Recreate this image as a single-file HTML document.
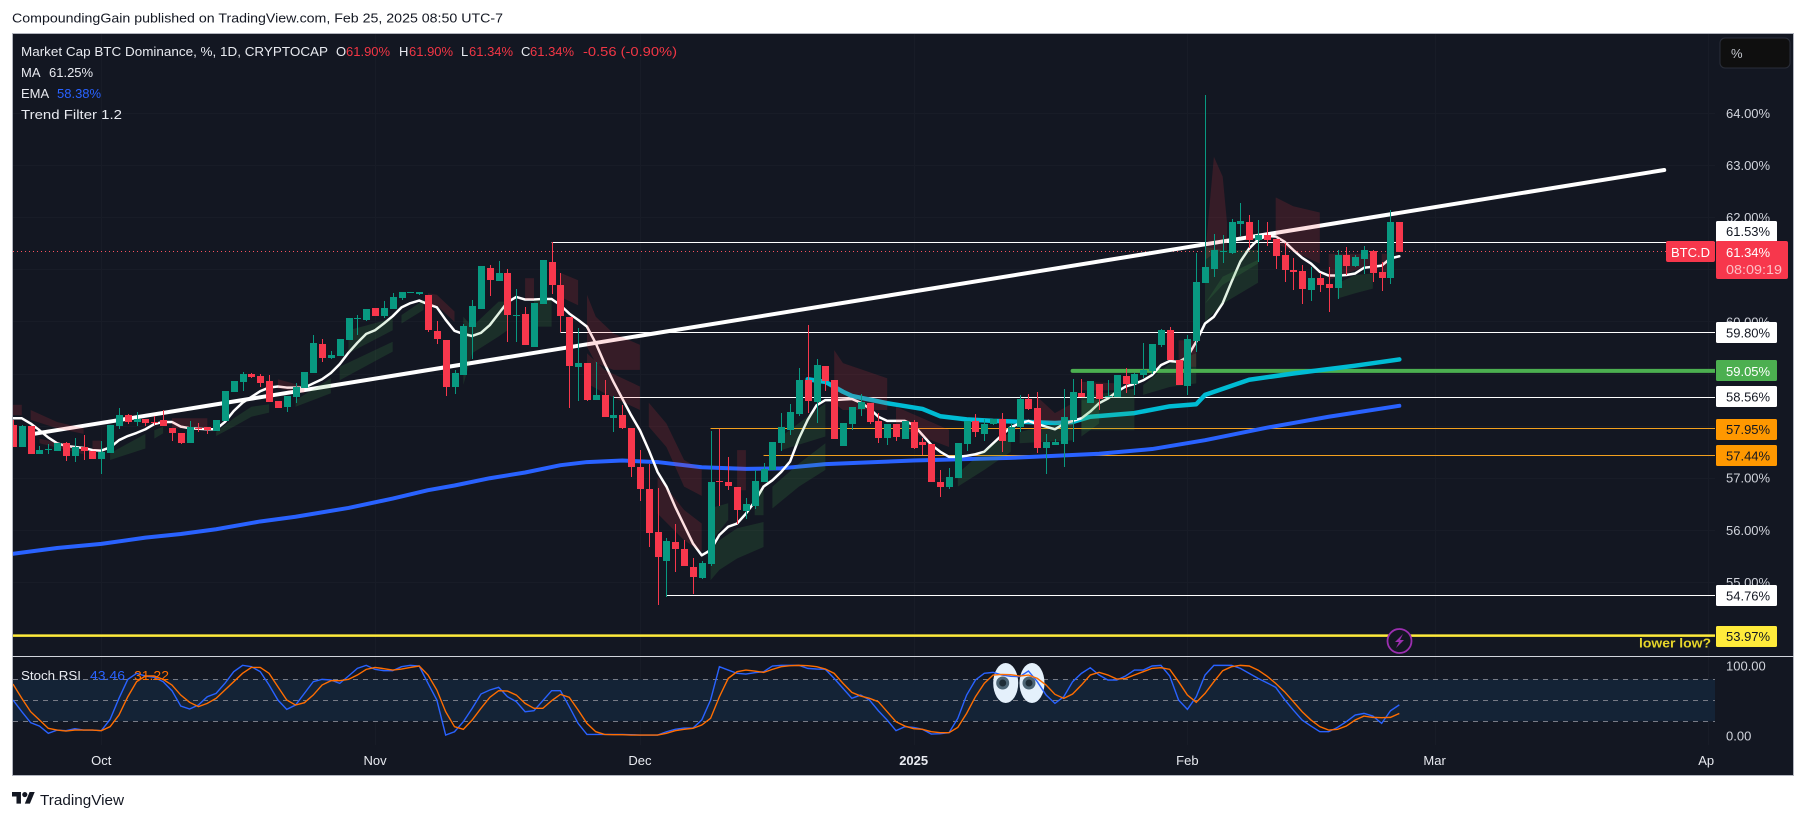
<!DOCTYPE html>
<html lang="en">
<head>
<meta charset="utf-8">
<title>Market Cap BTC Dominance chart</title>
<style>
html,body{margin:0;padding:0;background:#fff;width:1806px;height:819px;overflow:hidden}
svg{display:block}
text{font-family:"Liberation Sans",sans-serif;font-size:13px}
</style>
</head>
<body>
<svg id="chart" xmlns="http://www.w3.org/2000/svg" width="1806" height="819" viewBox="0 0 1806 819">
  <defs>
    <clipPath id="mainClip"><rect x="13" y="34" width="1702" height="622"/></clipPath>
    <clipPath id="rsiClip"><rect x="13" y="657" width="1702" height="90"/></clipPath>
    <clipPath id="timeClip"><rect x="13" y="745" width="1702" height="30"/></clipPath>
  </defs>
  <rect x="0" y="0" width="1806" height="819" fill="#ffffff"/>
  <text x="12" y="22.500" fill="#131722" textLength="491" lengthAdjust="spacingAndGlyphs">CompoundingGain published on TradingView.com, Feb 25, 2025 08:50 UTC-7</text>
  <rect x="12.500" y="33.500" width="1781" height="742" fill="#131722" stroke="#b2b5be" stroke-width="1"/>
  <g id="gridLayer"></g>
  <g clip-path="url(#mainClip)">
    <g id="levelLayer"></g>
    <line x1="13" x2="1666" y1="251.500" y2="251.500" stroke="#f7525f" stroke-width="1" stroke-dasharray="1 3"/>
    <g id="lineLayer"></g>
    <g id="bandLayer"></g>
    <g id="candleLayer" shape-rendering="crispEdges"></g>
    <text x="1639" y="647.500" fill="#e6d52a" font-weight="bold" style="font-weight:bold" textLength="72" lengthAdjust="spacingAndGlyphs">lower low?</text>
    <g>
      <circle cx="1399.500" cy="641" r="12" fill="#131722" stroke="#9c2fb0" stroke-width="1.800"/>
      <path d="M1403 634 L1395 642 L1399 642 L1396 648 L1404 640 L1400 640 Z" fill="#9c2fb0"/>
    </g>
  </g>
  <line x1="12" x2="1794" y1="656.500" y2="656.500" stroke="#d1d4dc" stroke-width="1"/>
  <g clip-path="url(#rsiClip)">
    <g id="rsiBandLayer"></g>
    <g>
      <ellipse cx="1005.700" cy="683" rx="12.500" ry="20" fill="#e4f0fb"/>
      <ellipse cx="1032" cy="683" rx="12.500" ry="20" fill="#e4f0fb"/>
      <circle cx="1002.700" cy="683" r="6.500" fill="#4c6474"/>
      <circle cx="1029" cy="683" r="6.500" fill="#4c6474"/>
      <circle cx="1002.700" cy="683" r="3.500" fill="#1e2c36"/>
      <circle cx="1029" cy="683" r="3.500" fill="#1e2c36"/>
    </g>
    <g id="rsiLineLayer"></g>
  </g>
  <g>
    <text x="21" y="56" fill="#e8eaf0" textLength="307" lengthAdjust="spacingAndGlyphs">Market Cap BTC Dominance, %, 1D, CRYPTOCAP</text>
    <text x="336" y="56" fill="#e8eaf0">O</text>
    <text x="346" y="56" fill="#f23645">61.90%</text>
    <text x="399" y="56" fill="#e8eaf0">H</text>
    <text x="409" y="56" fill="#f23645">61.90%</text>
    <text x="461" y="56" fill="#e8eaf0">L</text>
    <text x="469" y="56" fill="#f23645">61.34%</text>
    <text x="521" y="56" fill="#e8eaf0">C</text>
    <text x="530" y="56" fill="#f23645">61.34%</text>
    <text x="583" y="56" fill="#f23645" textLength="94" lengthAdjust="spacingAndGlyphs">-0.56 (-0.90%)</text>
    <text x="21" y="77" fill="#e8eaf0">MA</text>
    <text x="49" y="77" fill="#e8eaf0">61.25%</text>
    <text x="21" y="98" fill="#e8eaf0">EMA</text>
    <text x="57" y="98" fill="#2962ff">58.38%</text>
    <text x="21" y="119" fill="#e8eaf0" textLength="101" lengthAdjust="spacingAndGlyphs">Trend Filter 1.2</text>
    <text x="21" y="680" fill="#e8eaf0" textLength="60" lengthAdjust="spacingAndGlyphs">Stoch RSI</text>
    <text x="90" y="680" fill="#2962ff" textLength="35" lengthAdjust="spacingAndGlyphs">43.46</text>
    <text x="134" y="680" fill="#ff6d00" textLength="35" lengthAdjust="spacingAndGlyphs">31.22</text>
  </g>
  <g id="priceAxis"></g>
  <g id="labelLayer"></g>
  <g>
    <rect x="1666" y="241" width="49" height="21" rx="2" fill="#f7374c"/>
    <text x="1671" y="257" fill="#ffffff" textLength="39" lengthAdjust="spacingAndGlyphs">BTC.D</text>
    <rect x="1716" y="241" width="72" height="38" rx="2" fill="#f7374c"/>
    <text x="1726" y="257" fill="#ffffff">61.34%</text>
    <text x="1726" y="274" fill="#fcc0c6" textLength="56" lengthAdjust="spacingAndGlyphs">08:09:19</text>
  </g>
  <g>
    <rect x="1720" y="38" width="70" height="30" rx="5" fill="#0f0f0f" stroke="#2a2e39"/>
    <text x="1731" y="58" fill="#c5c8cf">%</text>
  </g>
  <g clip-path="url(#timeClip)"><g id="timeAxis"></g></g>
  <g>
    <g transform="translate(12,789.500) scale(0.640)" fill="#131722">
      <path d="M14 22H7V11H0V4h14v18zM28 22h-8l7.500-18h8L28 22z"/>
      <circle cx="20" cy="8" r="4"/>
    </g>
    <text x="40" y="805" fill="#131722" style="font-size:15px" textLength="84" lengthAdjust="spacingAndGlyphs">TradingView</text>
  </g>
</svg>
<script>
// ---------- candle data (percent dominance, one value per daily bar) ----------
const opens = [
58.01,57.59,57.99,57.45,57.54,57.51,57.66,57.41,57.59,57.51,
57.36,57.47,57.99,58.20,58.07,58.13,58.06,58.11,57.95,57.86,
57.66,57.95,57.97,57.90,58.09,58.64,58.84,58.99,58.95,58.85,
58.47,58.36,58.55,58.72,59.01,59.57,59.30,59.34,59.64,60.05,
60.03,60.26,60.10,60.24,60.45,60.55,60.53,60.51,59.82,59.64,
58.74,58.97,59.89,60.24,61.02,60.78,60.93,60.12,60.14,59.51,
60.33,61.14,60.70,60.08,59.12,59.20,58.49,58.59,58.14,58.20,
57.95,57.20,56.78,55.96,55.40,55.76,55.63,55.28,55.07,55.34,
56.93,56.92,56.82,56.36,56.45,56.92,57.15,57.66,57.91,58.22,
58.87,58.45,59.14,58.87,57.61,58.03,58.32,58.43,58.09,57.76,
58.03,57.74,58.07,57.68,57.65,56.92,56.82,56.99,57.65,58.08,
57.84,58.03,58.12,57.68,57.97,58.51,58.34,57.57,57.63,57.65,
58.11,58.62,58.43,58.80,58.55,58.55,58.95,58.80,58.97,59.05,
59.55,59.83,59.26,58.76,59.62,60.74,61.00,61.34,61.31,61.87,
61.91,61.56,61.66,61.58,61.27,60.99,60.97,60.60,60.83,60.72,
60.64,61.27,61.06,61.20,61.35,60.95,60.83,61.90];
const highs = [
58.11,58.01,57.99,57.61,57.65,57.66,57.68,57.76,57.82,57.51,
57.70,58.01,58.34,58.22,58.26,58.13,58.18,58.30,57.95,57.86,
58.09,58.05,57.97,58.11,58.66,58.85,59.03,59.01,58.99,58.97,
58.47,58.57,58.82,59.03,59.74,59.66,59.43,59.66,60.06,60.12,
60.24,60.26,60.39,60.54,60.56,60.56,60.56,60.51,60.01,59.64,
59.07,59.95,60.41,61.06,61.08,61.16,61.01,60.62,60.28,60.35,
61.18,61.52,60.93,60.08,59.87,59.20,59.22,58.87,58.57,58.39,
57.95,57.53,57.26,56.80,55.84,56.11,55.80,55.46,55.40,57.90,
57.93,57.40,56.82,56.61,57.15,57.28,57.68,58.24,58.41,59.10,
59.93,59.28,59.14,58.87,58.05,58.36,58.61,58.43,58.24,58.03,
58.03,58.09,58.11,57.76,57.65,57.15,57.19,57.67,58.09,58.22,
58.12,58.12,58.24,58.05,58.59,58.61,58.64,57.84,57.74,58.70,
58.89,58.89,58.85,58.80,58.87,58.97,59.10,59.01,59.58,59.56,
59.85,59.89,59.26,59.74,61.31,64.35,61.68,61.66,61.96,62.27,
62.04,61.95,61.91,61.58,61.50,61.22,61.08,61.04,60.93,61.04,
61.37,61.43,61.27,61.45,61.37,61.14,62.14,61.90];
const lows = [
57.59,57.59,57.45,57.45,57.45,57.51,57.32,57.30,57.34,57.36,
57.07,57.47,57.93,58.03,57.99,57.99,58.01,57.99,57.70,57.65,
57.66,57.88,57.84,57.90,58.09,58.64,58.66,58.92,58.74,58.45,
58.34,58.26,58.43,58.72,59.01,59.22,59.28,59.34,59.64,59.74,
60.01,60.10,60.06,60.24,60.41,60.55,60.51,59.80,59.57,58.57,
58.61,58.97,59.28,60.24,60.49,60.78,59.60,59.60,59.55,59.51,
60.33,60.53,59.80,58.34,58.47,58.47,58.49,58.16,57.88,57.93,
57.01,56.55,55.67,54.55,54.71,55.19,55.30,54.77,55.05,55.30,
56.45,56.76,56.11,56.21,56.40,56.92,57.15,57.51,57.82,58.18,
58.24,58.05,58.66,57.74,57.61,57.91,58.18,58.03,57.67,57.63,
57.70,57.74,57.55,57.44,56.92,56.63,56.78,56.99,57.51,57.78,
57.70,58.01,57.49,57.68,57.88,58.30,57.47,57.07,57.63,57.20,
57.68,58.55,58.43,58.30,58.55,58.55,58.62,58.59,58.91,58.99,
59.51,59.26,58.78,58.59,59.41,60.74,60.85,61.12,61.29,61.64,
61.41,61.14,61.45,61.00,60.76,60.60,60.33,60.39,60.56,60.18,
60.43,60.89,61.04,60.91,60.76,60.58,60.72,61.34];
const closes = [
57.59,57.99,57.45,57.53,57.55,57.66,57.41,57.59,57.51,57.36,
57.49,58.01,58.20,58.07,58.13,58.05,58.05,57.99,57.86,57.66,
57.97,57.93,57.91,58.11,58.66,58.85,58.99,58.93,58.82,58.45,
58.34,58.57,58.74,59.03,59.58,59.30,59.35,59.66,60.06,60.06,
60.24,60.10,60.26,60.47,60.56,60.56,60.56,59.83,59.66,58.74,
59.01,59.91,60.29,61.06,60.79,60.93,60.12,60.13,59.55,60.35,
61.18,60.70,60.10,59.14,59.20,58.49,58.59,58.16,58.20,57.95,
57.20,56.78,55.94,55.48,55.78,55.63,55.30,55.09,55.36,56.92,
56.92,56.84,56.38,56.49,56.93,57.17,57.68,57.97,58.26,58.87,
58.47,59.16,58.85,57.74,58.05,58.36,58.45,58.07,57.76,58.03,
57.78,58.09,57.57,57.63,56.92,56.82,57.01,57.67,58.09,57.88,
58.03,58.12,57.70,57.97,58.51,58.32,57.57,57.68,57.68,58.16,
58.64,58.55,58.85,58.51,58.57,58.97,58.80,58.99,59.07,59.56,
59.83,59.26,58.78,59.66,60.76,61.04,61.37,61.35,61.91,61.93,
61.56,61.66,61.56,61.25,60.99,60.95,60.62,60.83,60.70,60.64,
61.27,61.06,61.23,61.37,60.93,60.83,61.91,61.34];

// ---------- moving averages ----------
const maValues = [
58.14,58.14,58.04,57.91,57.77,57.66,57.61,57.59,57.57,57.53,
57.52,57.58,57.72,57.80,57.86,57.93,58.03,58.07,58.07,57.98,
57.95,57.94,57.93,57.93,58.07,58.28,58.44,58.55,58.66,58.73,
58.75,58.73,58.73,58.73,58.81,58.89,59.01,59.18,59.40,59.59,
59.76,59.83,59.96,60.10,60.27,60.35,60.40,60.33,60.27,60.03,
59.82,59.76,59.72,59.78,59.93,60.15,60.37,60.47,60.42,60.42,
60.43,60.43,60.31,60.15,60.03,59.90,59.58,59.19,58.84,58.52,
58.20,57.91,57.53,57.11,56.83,56.44,56.09,55.74,55.51,55.61,
55.90,56.06,56.12,56.31,56.54,56.83,56.95,57.11,57.31,57.75,
58.11,58.39,58.49,58.49,58.50,58.51,58.44,58.33,58.17,58.09,
58.09,58.09,58.01,57.82,57.63,57.50,57.40,57.40,57.42,57.45,
57.50,57.66,57.82,57.97,58.04,58.09,58.03,57.98,57.93,58.03,
58.09,58.14,58.27,58.43,58.52,58.65,58.75,58.80,58.87,58.97,
59.16,59.24,59.22,59.32,59.61,59.96,60.09,60.35,60.76,61.15,
61.40,61.57,61.64,61.63,61.53,61.37,61.22,61.11,60.95,60.88,
60.88,60.89,60.92,61.03,61.05,61.07,61.21,61.25];
const emaBars = [0,5,10,15,19,23,28,32,38,43,47,50,54,58,62,65,69,73,78,83,87,92,102,113,123,129,135,142,149,157];
const emaValues = [55.54,55.65,55.73,55.85,55.92,56.01,56.16,56.25,56.42,56.60,56.76,56.85,56.99,57.10,57.24,57.30,57.33,57.30,57.20,57.17,57.18,57.26,57.33,57.38,57.46,57.55,57.72,57.96,58.17,58.38];
const cyanBars = [90,92,94,95,99,103,105,108,111,115,118,120,122,127,131,134,135,140,145,152,157];
const cyanValues = [58.89,58.84,58.65,58.57,58.43,58.32,58.18,58.12,58.09,58.07,58.05,58.07,58.17,58.24,58.37,58.41,58.59,58.88,59.00,59.15,59.27];
const trendBars = [2.3,187];
const trendValues = [57.84,62.906];

// ---------- horizontal levels ----------
const levelValues = [61.53,59.80,59.05,58.56,57.95,57.44,54.76,53.97];
const levelStartBars = [61,62,120,68,79,85,74,-2];
const levelText = ['61.53%','59.80%','59.05%','58.56%','57.95%','57.44%','54.76%','53.97%'];

// ---------- trend filter ribbons: [bar, upper, lower] ----------
const redBands = [
[[0,58.40,58.20],[1,58.40,58.20]],
[[2,58.30,58.11],[5,58.07,57.95],[8,57.95,57.84]],
[[3,57.75,57.66],[8,57.56,57.45]],
[[9,57.71,57.53],[10,57.71,57.53]],
[[18,58.14,57.95],[22,58.14,57.95]],
[[30,58.89,58.71],[33,58.75,58.62]],
[[47,60.54,60.28],[48,60.51,60.31],[50,60.19,59.99]],
[[58,60.83,60.41],[59,60.83,60.41]],
[[62,60.93,60.47],[64,60.79,60.31]],
[[65,60.51,59.51],[66,60.09,59.20],[68,59.77,59.07],[71,59.55,59.07]],
[[65,59.39,58.81],[67,59.07,58.62],[71,58.75,58.30]],
[[72,58.44,57.98],[74,58.04,57.59],[76,57.34,56.83],[78,57.15,56.65]],
[[73,57.02,56.31],[76,56.38,55.80],[78,56.12,55.58]],
[[82,57.53,56.76],[83,57.53,56.76]],
[[93,59.45,58.43],[94,59.20,58.30],[99,58.91,58.30]],
[[100,58.36,57.98],[106,57.92,57.59]],
[[116,58.55,58.11],[118,58.24,58.04],[120,58.43,57.98]],
[[121,58.84,58.68],[125,58.81,58.68]],
[[132,59.64,59.13],[134,59.64,59.13]],
[[135,61.24,61.18],[136,63.16,61.30],[137,62.78,61.37],[137.5,61.88,61.37]],
[[143,62.38,61.62],[145,62.21,61.53],[148,62.09,61.40]],
[[143,61.62,61.50],[148,61.40,61.11]],
[[149,61.30,60.79],[154,61.30,61.11]],
[[155,61.30,60.92],[155.6,61.30,60.92]]
];
const greenBands = [
[[11,57.47,57.34],[15,57.84,57.56]],
[[16,57.91,57.75],[17,57.98,57.85]],
[[23,57.88,57.80],[25,58.14,57.98],[27,58.36,58.17],[29,58.41,58.25]],
[[32,58.49,58.36],[36,58.91,58.62]],
[[37,59.13,58.87],[43,59.61,59.42]],
[[38,59.83,59.39],[43,60.06,59.83]],
[[44,60.12,59.96],[46.500,60.41,60.22]],
[[51,60.09,58.78],[52,59.90,59.39],[55,60.38,59.71],[56,60.38,59.83]],
[[59,60.41,59.90],[61,60.41,59.90]],
[[79,55.61,55.03],[80,55.80,55.23],[82,56.03,55.45],[85,56.15,55.67]],
[[79.500,56.44,55.87],[81,56.51,56.19]],
[[84,56.76,56.28],[85,56.76,56.28]],
[[86,56.83,56.41],[89,57.27,56.83],[92,57.66,57.15]],
[[87,57.79,57.53],[92,58.43,57.79]],
[[107,57.08,56.83],[110,57.53,57.15],[113,57.88,57.50]],
[[114,57.88,57.66],[120,58.11,57.72]],
[[121,58.49,57.79],[123,58.49,58.04]],
[[121,58.55,57.91],[127,58.71,57.91]],
[[128,58.78,58.59],[131,59.19,58.74],[134,59.39,58.81]],
[[135,60.34,59.99],[137,60.86,60.34],[141,61.18,60.74]],
[[135,61.43,60.34],[137,61.37,60.70],[141,61.37,61.11]],
[[150,60.73,60.44],[152,60.89,60.54],[154,60.92,60.63]]
];

// ---------- stochastic RSI ----------
const stochK = [
50.4,33.7,18,13.2,2.8,7.5,6.6,9.4,7.5,7.5,
6.6,22.8,52.8,79.9,88.5,84.7,82.8,76.6,63.7,41.8,
37.5,43.2,55.1,59.9,74.2,90.9,99.9,98,90.9,71.8,
50.4,37,43.2,59.9,76.6,79.9,79,74.2,84.7,95.6,
99.9,94.2,92.3,92.3,98,99.9,99,74.2,50.4,0.4,
5.1,19.4,38.5,59,64.7,68.5,55.1,48,33.7,35.1,
49.4,63.7,63.7,40.9,17,1.3,1.3,1.3,1.3,1.3,
0.9,0.4,0.4,0.4,5.1,8.5,10.4,10.4,21.8,50.4,
98,93.2,88.5,87.5,89.4,90.9,99,99.9,99.9,99.9,
95.6,94.7,94.2,81.3,67,52.8,57.5,50.4,35.1,21.8,
6.6,12.3,11.3,8.5,1.8,2.3,3.7,24.2,57.5,79,
88.5,89.9,86.1,84.2,83.7,91.8,76.6,57.5,45.6,55.1,
76.6,88.5,96.6,86.1,79,79,84.7,93.2,93.2,99,
99.9,84.7,50.4,37,55.1,86.1,99.9,99.9,99.9,95.6,
88.5,81.3,75.1,68.5,51.3,36.1,21.8,13.2,5.1,5.1,
11.3,19.4,28.9,31.3,27.5,17,35.1,43.46];
const stochD = [
73.2,52.8,33.7,21.8,9.9,7.5,6.1,7.5,7.5,7.5,
6.6,12.3,28.9,55.1,76.6,84.7,84.7,79.9,71.8,57.5,
47.1,40.9,45.6,52.8,64.7,76.6,88.5,97,97,88.5,
69.4,50.4,43.2,46.6,57.5,71.8,78,78,79.9,86.1,
94.2,97,95.2,93.2,94.7,97,99,86.1,64.7,33.7,
12.3,8.5,21.8,38.5,54.2,63.7,63.2,57.5,45.6,38.5,
38.5,49.4,58.5,54.2,36.1,17,5.1,1.3,0.9,0.9,
0.4,0.4,0.4,0.4,2.8,6.6,8.5,9.9,14.7,24.2,
55.1,81.3,90.9,93.2,91.8,89.9,94.2,98,99.5,99.9,
99.5,98,94.7,88.5,74.2,61.3,56.1,52.8,48,33.7,
19.4,13.2,9.4,8.5,5.1,3.7,3.7,11.3,31.3,55.1,
74.2,86.1,87,86.6,84.7,86.1,81.3,71.8,58.5,52.8,
59,71.8,86.1,89.9,86.1,80.4,81.3,86.1,90.9,95.6,
96.6,94.2,76.6,57.5,47.1,59.9,76.6,92.3,98,99.9,
99,93.2,84.7,74.2,62.3,48,33.7,21.8,12.3,7.5,
8.5,13.2,21.8,27.5,25.6,25.1,25.6,31.22];
const stochLevels = [80,50,20];

// ---------- axis ticks ----------
const priceTicks = [64,63,62,61,60,59,58,57,56,55,54];
const stochTicks = [100,0];
const timeLabels = ['Oct','Nov','Dec','2025','Feb','Mar','Apr'];
const timeBars = [10,41,71,102,133,161,192];

// ---------- axis functions ----------
const NS = 'http://www.w3.org/2000/svg';
function xAxis(bar){ return 13 + bar * 8.83; }
function yAxis(price){ return 113 + (64 - price) * 52.1; }
function yStoch(v){ return 735.3 - v * 0.7; }
function make(tag, attrs, parent){
  const el = document.createElementNS(NS, tag);
  for (const k in attrs) el.setAttribute(k, attrs[k]);
  parent.appendChild(el);
  return el;
}
function pointsFrom(bars, values, yFn){
  return values.map((v, k) => xAxis(bars ? bars[k] : k).toFixed(2) + ',' + yFn(v).toFixed(2)).join(' ');
}
const gridLayer = document.getElementById('gridLayer');
const levelLayer = document.getElementById('levelLayer');
const lineLayer = document.getElementById('lineLayer');
const bandLayer = document.getElementById('bandLayer');
const candleLayer = document.getElementById('candleLayer');
const labelLayer = document.getElementById('labelLayer');
const priceAxis = document.getElementById('priceAxis');
const timeAxis = document.getElementById('timeAxis');
const rsiBandLayer = document.getElementById('rsiBandLayer');
const rsiLineLayer = document.getElementById('rsiLineLayer');

// grid + price ticks
priceTicks.forEach(function(p){
  const g = make('line', {x1:13, x2:1715, y1:Math.round(yAxis(p))+0.5, y2:Math.round(yAxis(p))+0.5, stroke:'#181c27', 'stroke-width':1}, gridLayer);
  
  
  const t = make('text', {x:1726, y:yAxis(p)+5, fill:'#d1d4dc'}, priceAxis);
  
  
  t.textContent = p.toFixed(2) + '%';
});
stochTicks.forEach(function(v){
  const t = make('text', {x:1726, y:yStoch(v)+5, fill:'#d1d4dc'}, priceAxis);
  
  
  t.textContent = v.toFixed(2);
});
timeLabels.forEach(function(label, k){
  const g = make('line', {x1:Math.round(xAxis(timeBars[k]))+0.5, x2:Math.round(xAxis(timeBars[k]))+0.5, y1:34, y2:745, stroke:'#181c27', 'stroke-width':1}, gridLayer);
  
  
  const t = make('text', {x:xAxis(timeBars[k]), y:765, fill:'#e8eaf0', 'text-anchor':'middle'}, timeAxis);
  
  
  if (label === '2025') t.setAttribute('style', 'font-weight:bold');
  t.textContent = label;
});

// levels
const levelColors = ['#ffffff','#ffffff','#4caf50','#ffffff','#f2a01e','#f2a01e','#ffffff','#ffeb3b'];
const levelWidths = [1,1,4,1,1,1,1,2.5];
const labelFills = ['#ffffff','#ffffff','#4caf50','#ffffff','#ff9800','#ff9800','#ffffff','#ffeb3b'];
const labelText = ['#131722','#131722','#ffffff','#131722','#131722','#131722','#131722','#131722'];
const labelShift = [-10.5,0.5,0,0,1,0.5,1,0.5];
levelValues.forEach(function(p, k){
  const lineY = levelWidths[k] === 1 ? Math.floor(yAxis(p) + 0.6) + 0.5 : yAxis(p);
  const l = make('line', {x1:xAxis(levelStartBars[k]), x2:1716, y1:lineY, y2:lineY, stroke:levelColors[k], 'stroke-width':levelWidths[k]}, levelLayer);
  
  
  if (k === 2) l.setAttribute('stroke-linecap', 'round');
  const cy = yAxis(p) + labelShift[k];
  const box = make('rect', {x:1716, y:Math.round(cy-10.5), width:61, height:21, rx:1.5, fill:labelFills[k]}, labelLayer);
  
  
  const t = make('text', {x:1726, y:cy+5, fill:labelText[k]}, labelLayer);
  
  
  t.textContent = levelText[k];
});

// overlay lines
const trend = make('polyline', {points:pointsFrom(trendBars, trendValues, yAxis), fill:'none', stroke:'#ffffff', 'stroke-width':4, 'stroke-linecap':'round'}, lineLayer);


const ema = make('polyline', {points:pointsFrom(emaBars, emaValues, yAxis), fill:'none', stroke:'#2962ff', 'stroke-width':4, 'stroke-linecap':'round', 'stroke-linejoin':'round'}, lineLayer);


const cyan = make('polyline', {points:pointsFrom(cyanBars, cyanValues, yAxis), fill:'none', stroke:'#00bcd4', 'stroke-width':4.5, 'stroke-linecap':'round', 'stroke-linejoin':'round'}, lineLayer);


const ma = make('polyline', {points:pointsFrom(null, maValues, yAxis), fill:'none', stroke:'#ffffff', 'stroke-width':2.5, 'stroke-linecap':'round', 'stroke-linejoin':'round'}, lineLayer);



// ribbons
function bandPoints(band){
  const up = band.map(r => xAxis(r[0]).toFixed(1) + ',' + yAxis(r[1]).toFixed(1));
  const dn = band.map(r => xAxis(r[0]).toFixed(1) + ',' + yAxis(r[2]).toFixed(1)).reverse();
  return up.concat(dn).join(' ');
}
redBands.forEach(function(band){
  const poly = make('polygon', {points:bandPoints(band), fill:'rgba(242,54,69,0.16)'}, bandLayer);
  
  
});
greenBands.forEach(function(band){
  const poly = make('polygon', {points:bandPoints(band), fill:'rgba(76,175,80,0.16)'}, bandLayer);
  
  
});

// candles
opens.forEach(function(o, i){
  const c = closes[i];
  const color = c >= o ? '#089981' : '#f7374c';
  const cx = Math.round(xAxis(i));
  const top = Math.round(yAxis(Math.max(o, c)));
  const bot = Math.round(yAxis(Math.min(o, c)));
  const g = make('g', {}, candleLayer);
  
  
  const hi = Math.round(yAxis(highs[i]));
  const lo = Math.round(yAxis(lows[i]));
  const wick = make('rect', {x:cx, y:hi, width:1, height:Math.max(1, lo-hi), fill:color}, g);
  
  
  const body = make('rect', {x:cx-3, y:top, width:7, height:Math.max(1, bot-top), fill:color}, g);
  
  
});

// stochastic pane
const rsiBand = make('rect', {x:13, y:yStoch(80), width:1702, height:yStoch(20)-yStoch(80), fill:'#142336'}, rsiBandLayer);


stochLevels.forEach(function(v){
  const l = make('line', {x1:13, x2:1715, y1:Math.round(yStoch(v))+0.5, y2:Math.round(yStoch(v))+0.5, stroke:'#787b86', 'stroke-width':1, 'stroke-dasharray':'5 5'}, rsiBandLayer);
  
  
});
const kLine = make('polyline', {points:pointsFrom(null, stochK, yStoch), fill:'none', stroke:'#2962ff', 'stroke-width':1.4}, rsiLineLayer);


const dLine = make('polyline', {points:pointsFrom(null, stochD, yStoch), fill:'none', stroke:'#ff6d00', 'stroke-width':1.4}, rsiLineLayer);


</script>
</body>
</html>
